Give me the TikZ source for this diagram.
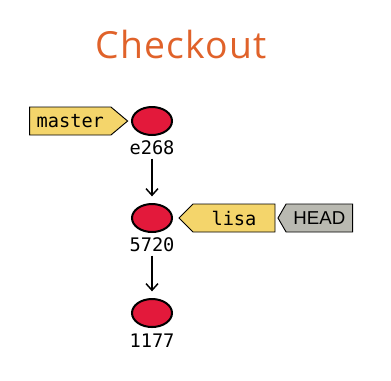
\documentclass[tikz,border=0pt]{standalone}
\usepackage{fontspec}
\usetikzlibrary{positioning,shapes.geometric,shapes.symbols,arrows.meta}
\setmainfont{Open Sans}
\setmonofont{DejaVu Sans Mono}
\newfontfamily\headfont{Liberation Sans}
\definecolor{titleorange}{HTML}{E0622A}
\definecolor{commitred}{HTML}{E3193B}
\definecolor{tagyellow}{HTML}{F4D56B}
\definecolor{headgray}{HTML}{B9B9B1}
\tikzset{
	commit/.style={ellipse, draw, line width=1.5pt, fill=commitred, minimum width=30pt, minimum height=21pt, inner sep=0pt},
	sha/.style={font=\ttfamily\fontsize{14}{15}\selectfont, inner sep=1pt},
	tag/.style={signal, draw, line width=0.7pt, fill=tagyellow, minimum height=21pt, inner sep=2pt, font=\ttfamily\fontsize{14}{15}\selectfont},
	headtag/.style={tag, fill=headgray, font=\headfont\fontsize{14}{15}\selectfont},
	parent/.style={-{Straight Barb[length=5pt,width=9pt]}, line width=1.1pt, shorten <=2pt, shorten >=5pt}
}
\begin{document}
\begin{tikzpicture}[x=0.75pt, y=-0.75pt]
	\useasboundingbox (0,0) rectangle (391,380);
	\node[text=titleorange, font=\fontsize{28}{30}\selectfont\addfontfeatures{LetterSpace=3}](title) at (181,44) {Checkout};
	\node[commit](e268) at (152,121) {};
	\node[commit](5720) at (152,218) {};
	\node[commit](1177) at (152,313) {};
	\node[sha, below=2pt of e268](e268 sha) {e268};
	\node[sha, below=2pt of 5720](5720 sha) {5720};
	\node[sha, below=3pt of 1177](1177 sha) {1177};
	\draw[parent] (e268 sha) -- (5720);
	\draw[parent] (5720 sha) -- (1177);
	\node[tag, signal to=east, signal pointer angle=80, minimum width=73.5pt, left=2pt of e268](master) {master};
	\node[tag, signal to=west, signal pointer angle=90, minimum width=72pt, right=4pt of 5720](lisa) {lisa};
	\node[headtag, signal to=west, signal pointer angle=120, minimum width=56pt, right=1.5pt of lisa](head) {HEAD};
\end{tikzpicture}
\end{document}
